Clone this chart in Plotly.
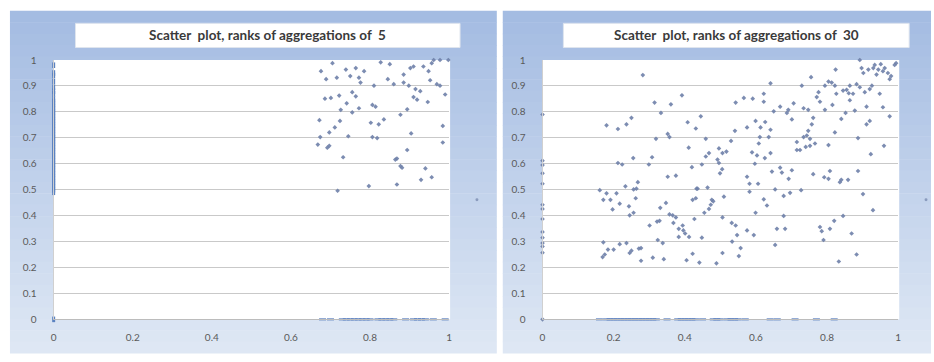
import plotly.graph_objects as go

W, H = 934, 362

# ---------------- data ----------------
titles = ["Scatter  plot, ranks of aggregations of  5",
          "Scatter  plot, ranks of aggregations of  30"]
y_tick_vals = [0, 0.1, 0.2, 0.3, 0.4, 0.5, 0.6, 0.7, 0.8, 0.9, 1]
y_tick_text = ["0", "0.1", "0.2", "0.3", "0.4", "0.5", "0.6", "0.7", "0.8", "0.9", "1"]
x_tick_vals = [0, 0.2, 0.4, 0.6, 0.8, 1]
x_tick_text = ["0", "0.2", "0.4", "0.6", "0.8", "1"]

# Left chart (aggregations of 5): main cluster
left_cl_x = [0.676, 0.689, 0.705, 0.716, 0.739, 0.750, 0.764, 0.772, 0.785, 0.776,
             0.827, 0.850, 0.845, 0.860, 0.885, 0.902, 0.910, 0.935, 0.948, 0.956,
             0.961, 0.977, 0.998, 0.952, 0.969, 0.977, 0.990, 0.885, 0.898, 0.915,
             0.927, 0.910, 0.919, 0.946, 0.810, 0.686, 0.701, 0.722, 0.755, 0.764,
             0.741, 0.726, 0.755, 0.772, 0.806, 0.814, 0.894, 0.877, 0.672, 0.724,
             0.711, 0.697, 0.674, 0.745, 0.802, 0.822, 0.835, 0.806, 0.818, 0.904,
             0.984, 0.668, 0.697, 0.692, 0.984, 0.894, 0.732, 0.864, 0.868, 0.877,
             0.881, 0.940, 0.929, 0.956, 0.868, 0.797, 0.718]
left_cl_y = [0.957, 0.926, 0.988, 0.932, 0.963, 0.938, 0.969, 0.932, 0.957, 0.913,
             0.991, 0.984, 0.926, 0.907, 0.944, 0.969, 0.975, 0.975, 0.957, 0.988,
             1.000, 1.000, 1.000, 0.922, 0.907, 0.901, 0.867, 0.913, 0.901, 0.888,
             0.880, 0.857, 0.847, 0.838, 0.901, 0.851, 0.854, 0.863, 0.876, 0.860,
             0.833, 0.808, 0.798, 0.814, 0.827, 0.820, 0.810, 0.789, 0.768, 0.765,
             0.740, 0.721, 0.703, 0.706, 0.758, 0.752, 0.771, 0.703, 0.699, 0.717,
             0.746, 0.674, 0.669, 0.662, 0.682, 0.653, 0.625, 0.616, 0.620, 0.591,
             0.585, 0.582, 0.538, 0.548, 0.520, 0.514, 0.496]
# Left chart: points lying on x = 0
left_axis_y = [0.49, 0.50, 0.51, 0.52, 0.53, 0.54, 0.55, 0.56, 0.57, 0.58,
               0.59, 0.60, 0.61, 0.62, 0.63, 0.64, 0.65, 0.66, 0.67, 0.68,
               0.69, 0.70, 0.71, 0.72, 0.73, 0.74, 0.75, 0.76, 0.77, 0.78,
               0.79, 0.80, 0.81, 0.82, 0.83, 0.84, 0.85, 0.87, 0.88, 0.895,
               0.917, 0.94, 0.95, 0.98, 0.0]
# Left chart: points lying on y = 0
left_base_x = [0.68, 0.70, 0.73, 0.74, 0.75, 0.76, 0.77, 0.78, 0.79, 0.80,
               0.82, 0.83, 0.84, 0.85, 0.86, 0.89, 0.91, 0.92, 0.93, 0.94,
               0.96, 0.99]

# Right chart (aggregations of 30): main cloud
right_cl_x = [
    0.282, 0.641, 0.755, 0.729, 0.824, 0.892, 0.897, 0.902, 0.916, 0.930,
    0.934, 0.944, 0.951, 0.957, 0.962, 0.971, 0.980, 0.976, 0.994, 0.990,
    0.939, 0.926, 0.804, 0.813, 0.794, 0.822, 0.883, 0.892, 0.826, 0.845,
    0.855, 0.864, 0.861, 0.873, 0.906, 0.920, 0.948, 0.776, 0.771, 0.780,
    0.747, 0.794, 0.815, 0.852, 0.864, 0.911, 0.957, 0.976, 0.840, 0.878,
    0.392, 0.315, 0.361, 0.333, 0.180, 0.212, 0.236, 0.250, 0.408, 0.445,
    0.431, 0.319, 0.352, 0.357, 0.411, 0.459, 0.543, 0.566, 0.591, 0.622,
    0.622, 0.541, 0.530, 0.575, 0.599, 0.626, 0.613, 0.641, 0.636, 0.611,
    0.608, 0.650, 0.668, 0.691, 0.687, 0.706, 0.701, 0.734, 0.761, 0.757,
    0.747, 0.743, 0.734, 0.752, 0.715, 0.715, 0.724, 0.740, 0.766, 0.752,
    0.822, 0.804, 0.911, 0.920, 0.887, 0.960, 0.923,
    0.212, 0.224, 0.255, 0.308, 0.299, 0.268, 0.233, 0.256, 0.352, 0.375,
    0.420, 0.448, 0.459, 0.468, 0.496, 0.492, 0.496, 0.506, 0.517, 0.499,
    0.505, 0.464, 0.433, 0.575, 0.582, 0.582, 0.606, 0.589, 0.603, 0.597,
    0.625, 0.645, 0.641, 0.668, 0.673, 0.701, 0.692, 0.654, 0.678, 0.696,
    0.727, 0.761, 0.792, 0.804, 0.808, 0.836, 0.840, 0.859, 0.887, 0.901,
    0.161, 0.171, 0.180, 0.191, 0.197, 0.208, 0.217, 0.243, 0.245, 0.256,
    0.262, 0.264, 0.301, 0.322, 0.329, 0.347, 0.331, 0.357, 0.366, 0.368,
    0.375, 0.383, 0.394, 0.396, 0.401, 0.412, 0.383, 0.422, 0.431, 0.436,
    0.427, 0.455, 0.468, 0.473, 0.476, 0.480, 0.510, 0.506, 0.532, 0.543,
    0.547, 0.533, 0.557, 0.552, 0.575, 0.594, 0.599, 0.622, 0.631, 0.659,
    0.654, 0.682, 0.678, 0.780, 0.785, 0.790, 0.808, 0.820, 0.845, 0.869,
    0.883, 0.833, 0.929, 0.171, 0.169, 0.175, 0.184, 0.200, 0.217, 0.236,
    0.245, 0.250, 0.271, 0.277, 0.277, 0.310, 0.324, 0.338, 0.341, 0.405,
    0.422, 0.441, 0.448, 0.489, 0.506]
right_cl_y = [
    0.942, 0.910, 0.934, 0.901, 0.963, 1.000, 0.969, 0.950, 0.963, 0.969,
    0.981, 0.963, 0.984, 0.957, 0.969, 0.950, 0.938, 0.926, 0.988, 0.981,
    0.944, 0.901, 0.917, 0.913, 0.901, 0.901, 0.907, 0.895, 0.870, 0.882,
    0.885, 0.901, 0.872, 0.870, 0.876, 0.888, 0.870, 0.876, 0.857, 0.839,
    0.808, 0.808, 0.827, 0.796, 0.845, 0.820, 0.818, 0.783, 0.773, 0.805,
    0.864, 0.836, 0.829, 0.796, 0.748, 0.734, 0.752, 0.777, 0.760, 0.783,
    0.736, 0.696, 0.715, 0.703, 0.662, 0.696, 0.836, 0.854, 0.851, 0.870,
    0.839, 0.727, 0.688, 0.740, 0.765, 0.761, 0.740, 0.731, 0.703, 0.703,
    0.678, 0.802, 0.820, 0.808, 0.796, 0.833, 0.771, 0.814, 0.777, 0.752,
    0.727, 0.709, 0.703, 0.696, 0.684, 0.653, 0.653, 0.665, 0.678, 0.669,
    0.721, 0.672, 0.752, 0.765, 0.699, 0.669, 0.637,
    0.603, 0.597, 0.622, 0.625, 0.597, 0.529, 0.513, 0.501, 0.550, 0.554,
    0.587, 0.597, 0.628, 0.641, 0.659, 0.616, 0.603, 0.641, 0.647, 0.563,
    0.579, 0.508, 0.504, 0.550, 0.523, 0.492, 0.523, 0.644, 0.632, 0.600,
    0.622, 0.570, 0.641, 0.585, 0.566, 0.575, 0.542, 0.501, 0.476, 0.488,
    0.498, 0.560, 0.548, 0.542, 0.572, 0.529, 0.538, 0.538, 0.572, 0.483,
    0.498, 0.461, 0.486, 0.461, 0.424, 0.486, 0.446, 0.436, 0.401, 0.411,
    0.467, 0.504, 0.362, 0.377, 0.380, 0.449, 0.430, 0.405, 0.401, 0.372,
    0.393, 0.349, 0.362, 0.343, 0.331, 0.318, 0.318, 0.461, 0.467, 0.504,
    0.387, 0.411, 0.426, 0.442, 0.461, 0.455, 0.473, 0.393, 0.372, 0.362,
    0.325, 0.300, 0.275, 0.244, 0.343, 0.325, 0.411, 0.463, 0.439, 0.349,
    0.287, 0.349, 0.399, 0.356, 0.340, 0.306, 0.349, 0.380, 0.399, 0.331,
    0.250, 0.223, 0.421, 0.297, 0.240, 0.250, 0.269, 0.269, 0.290, 0.294,
    0.256, 0.265, 0.273, 0.275, 0.226, 0.238, 0.306, 0.294, 0.232, 0.228,
    0.253, 0.219, 0.315, 0.216, 0.256]
# Right chart: points on x = 0
right_axis_y = [0.79, 0.612, 0.595, 0.563, 0.523, 0.442, 0.426, 0.387, 0.337,
                0.315, 0.294, 0.281, 0.257, 0.0]
# Right chart: points on y = 0
right_base_x = [0.16, 0.18, 0.19, 0.20, 0.21, 0.22, 0.23, 0.24, 0.25, 0.26,
                0.27, 0.28, 0.29, 0.30, 0.31, 0.32, 0.35, 0.38, 0.39, 0.40,
                0.41, 0.42, 0.43, 0.45, 0.48, 0.49, 0.50, 0.52, 0.53, 0.54,
                0.55, 0.57, 0.64, 0.66, 0.71, 0.77, 0.82]

# ---------------- helpers (layout geometry) ----------------
def fx(px):
    return px / W

def fy(py):
    return 1 - py / H

MARKER = dict(symbol="diamond", size=3.6, color="#6e80a8", opacity=0.9,
              line=dict(width=0))
LEFT_AXIS_MARKER = dict(symbol="line-ns", size=4, color="#5b82c0",
                        line=dict(width=3, color="#5b82c0"))
AXIS_MARKER = dict(symbol="diamond", size=3.6, color="#6e80a8", opacity=0.9,
                   line=dict(width=0))
BASE_MARKER = dict(symbol="line-ew", size=5, color="#557bbd",
                   line=dict(width=2, color="#557bbd"))

fig = go.Figure()

panels = [
    dict(xa="x", ya="y", cl_x=left_cl_x, cl_y=left_cl_y,
         axis_y=left_axis_y, base_x=left_base_x, am=LEFT_AXIS_MARKER),
    dict(xa="x2", ya="y2", cl_x=right_cl_x, cl_y=right_cl_y,
         axis_y=right_axis_y, base_x=right_base_x, am=AXIS_MARKER),
]
for p in panels:
    fig.add_trace(go.Scatter(x=[0] * len(p["axis_y"]), y=p["axis_y"], mode="markers",
                             marker=p["am"], xaxis=p["xa"], yaxis=p["ya"],
                             cliponaxis=False, hoverinfo="skip"))
    fig.add_trace(go.Scatter(x=p["base_x"], y=[0] * len(p["base_x"]), mode="markers",
                             marker=BASE_MARKER, xaxis=p["xa"], yaxis=p["ya"],
                             cliponaxis=False, hoverinfo="skip"))
    fig.add_trace(go.Scatter(x=p["cl_x"], y=p["cl_y"], mode="markers",
                             marker=MARKER, xaxis=p["xa"], yaxis=p["ya"],
                             cliponaxis=False))

# ---------------- background panels (gradient) ----------------
shapes = []
top_c = (164, 188, 226)
bot_c = (222, 231, 244)
N = 30
panel_boxes = [(7, 497), (503, 934)]
for (x0, x1) in panel_boxes:
    ytop, ybot = 4, 359
    for i in range(N):
        t = i / (N - 1)
        c = tuple(round(top_c[k] + (bot_c[k] - top_c[k]) * t) for k in range(3))
        y0 = ytop + (ybot - ytop) * i / N
        y1 = ytop + (ybot - ytop) * (i + 1) / N
        shapes.append(dict(type="rect", xref="paper", yref="paper",
                           x0=fx(x0), x1=fx(x1), y0=fy(y1 + 0.5), y1=fy(y0),
                           fillcolor="rgb(%d,%d,%d)" % c, line=dict(width=0),
                           layer="below"))

# plot areas (white)
plot_boxes = [(51, 449), (543, 901)]
for (x0, x1) in plot_boxes:
    shapes.append(dict(type="rect", xref="paper", yref="paper",
                       x0=fx(x0), x1=fx(x1 + 1), y0=fy(324), y1=fy(55),
                       fillcolor="white", line=dict(width=0), layer="below"))

# title boxes
title_boxes = [(73, 460), (564, 912)]
for (x0, x1) in title_boxes:
    shapes.append(dict(type="rect", xref="paper", yref="paper",
                       x0=fx(x0), x1=fx(x1), y0=fy(42), y1=fy(17),
                       fillcolor="white", line=dict(width=1, color="#dfe5ee"),
                       layer="below"))

# tiny legend markers
for (cx, cy) in [(477, 200), (929, 200)]:
    shapes.append(dict(type="circle", xref="paper", yref="paper",
                       x0=fx(cx - 1.5), x1=fx(cx + 1.5), y0=fy(cy + 1.5), y1=fy(cy - 1.5),
                       fillcolor="#8a9bbd", line=dict(width=0), layer="above"))

annotations = []
for (x0, x1), t in zip(title_boxes, titles):
    annotations.append(dict(xref="paper", yref="paper", x=fx((x0 + x1) / 2), y=fy(29.5),
                            text="<b>%s</b>" % t, showarrow=False,
                            font=dict(family="Lato, Open Sans, sans-serif", size=13.5,
                                      color="#3a3a3a"),
                            xanchor="center", yanchor="middle"))

TICKFONT = dict(family="Lato, Open Sans, sans-serif", size=10, color="#5a5a5a")

def xaxis(domain, anchor):
    return dict(domain=domain, anchor=anchor, range=[0, 1], tickvals=x_tick_vals,
                ticktext=x_tick_text, showgrid=False, zeroline=False, showline=True,
                linecolor="#bcbcbc", linewidth=1, ticks="", tickfont=TICKFONT,
                ticklabelstandoff=9, fixedrange=True)

def yaxis(domain, anchor):
    return dict(domain=domain, anchor=anchor, range=[0, 1], tickvals=y_tick_vals,
                ticktext=y_tick_text, showgrid=True, gridcolor="#c9c9c9", gridwidth=1,
                zeroline=False, showline=True, linecolor="#d0d0d0", linewidth=1,
                ticks="", tickfont=TICKFONT, ticklabelstandoff=14, fixedrange=True)

fig.update_layout(
    width=W, height=H,
    margin=dict(l=0, r=0, t=0, b=0, pad=0),
    paper_bgcolor="white", plot_bgcolor="white",
    showlegend=False,
    xaxis=xaxis([fx(51), fx(449)], "y"),
    yaxis=yaxis([fy(324), fy(55)], "x"),
    xaxis2=xaxis([fx(543), fx(901)], "y2"),
    yaxis2=yaxis([fy(324), fy(55)], "x2"),
    shapes=shapes,
    annotations=annotations,
)

fig.write_html("out.html", config={"displayModeBar": False},
               post_script="document.body.style.margin='0';"
                           "document.body.style.overflow='hidden';")
